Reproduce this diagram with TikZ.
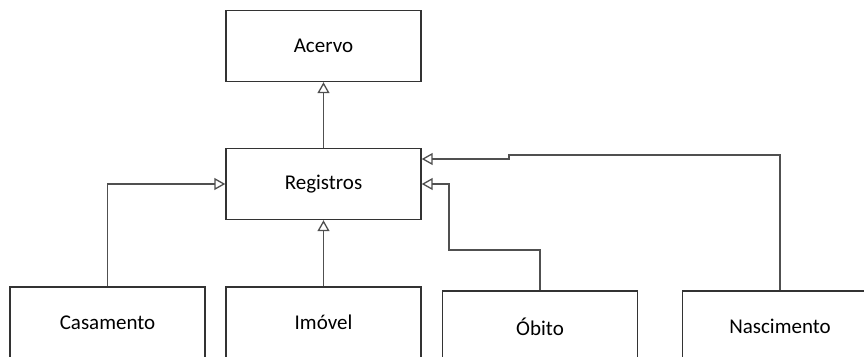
\documentclass[tikz,border=0pt]{standalone}
\usepackage{fontspec}
\setmainfont{Carlito}
\usetikzlibrary{arrows.meta}
\definecolor{boxline}{HTML}{333333}
\definecolor{linkline}{HTML}{505050}
\tikzset{
  classbox/.style={draw=boxline, line width=1.4pt, fill=white,
    minimum width=195pt, minimum height=71pt, inner sep=0pt,
    font=\fontsize{21}{25}\selectfont, text=black},
  inherit/.style={draw=linkline, line width=1.8pt,
    -{Triangle[open, length=11pt, width=12pt, line width=1.3pt]}},
}
\begin{document}
\begin{tikzpicture}[x=1pt, y=-1pt]
  \useasboundingbox (0,0) rectangle (864,356);
  \clip (0,0) rectangle (864,356);
  % class boxes
  \node[classbox] (ace) at (323.5,46) {Acervo};
  \node[classbox] (reg) at (323.5,184) {Registros};
  \node[classbox] (cas) at (107.5,322.5) {Casamento};
  \node[classbox] (imo) at (323.5,322.5) {Imóvel};
  \node[classbox] (obi) at (540,326.5) {Óbito};
  \node[classbox] (nas) at (780,326.5) {Nascimento};
  % bend points of the routed links
  \coordinate (objog) at (449,250);
  \coordinate (nasjog) at (509,155);
  \coordinate (nasin) at ([yshift=25pt]reg.east);
  % generalisation links
  \draw[inherit] (reg.north) -- (ace.south);
  \draw[inherit] (imo.north) -- (reg.south);
  \draw[inherit] (cas.north) |- (reg.west);
  \draw[inherit] (obi.north) |- (objog) |- (reg.east);
  \draw[inherit] (nas.north) |- (nasjog) |- (nasin);
\end{tikzpicture}
\end{document}
